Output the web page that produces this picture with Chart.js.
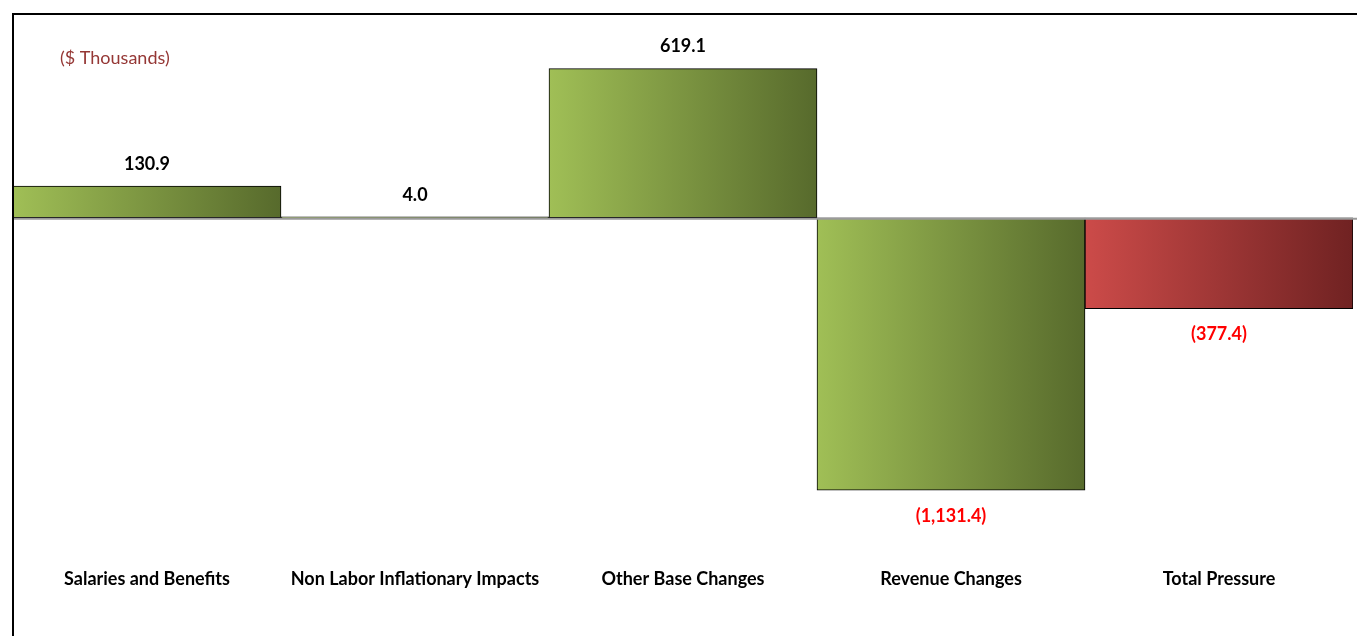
<!DOCTYPE html>
<html>
<head>
<meta charset="utf-8">
<script src="https://cdn.jsdelivr.net/npm/chart.js@4.4.1/dist/chart.umd.min.js"></script>
<style>
    html, body { margin: 0; padding: 0; background: #fff; }
    #wrap { position: relative; width: 1357px; height: 636px; }
</style>
</head>
<body>
<div id="wrap"><canvas id="pressureChart"></canvas></div>
<script>
// Chart data ($ thousands)
const categories = ["Salaries and Benefits", "Non Labor Inflationary Impacts", "Other Base Changes", "Revenue Changes", "Total Pressure"];
const values = [130.9, 4.0, 619.1, -1131.4, -377.4];
const valueLabels = ["130.9", "4.0", "619.1", "(1,131.4)", "(377.4)"];
const unitsNote = "($ Thousands)";

document.addEventListener("DOMContentLoaded", () => {
    const ctx = document.getElementById("pressureChart").getContext("2d");

    // Horizontal gradient per bar, green for components, red for total
    function barGradient(context) {
        const chart = context.chart;
        const xs = chart.scales && chart.scales.x;
        if (!chart.chartArea || !xs || context.dataIndex === undefined) return "#9bbb59";
        const half = (chart.chartArea.right - chart.chartArea.left) / categories.length / 2;
        const cx = xs.getPixelForValue(context.dataIndex);
        if (!isFinite(cx)) return "#9bbb59";
        const g = chart.ctx.createLinearGradient(cx - half, 0, cx + half, 0);
        if (context.dataIndex === categories.length - 1) {
            g.addColorStop(0, "#cc4b49");
            g.addColorStop(1, "#702222");
        } else {
            g.addColorStop(0, "#a0bf56");
            g.addColorStop(1, "#576a2c");
        }
        return g;
    }

    // Frame, zero line, value labels and category labels
    const decorations = {
        id: "decorations",
        afterDatasetsDraw(chart) {
            const c = chart.ctx;
            const x = chart.scales.x;
            const y = chart.scales.y;
            const zero = y.getPixelForValue(0);

            c.save();
            // zero line
            c.strokeStyle = "#9a9a9a";
            c.lineWidth = 2;
            c.beginPath();
            c.moveTo(13, zero + 1);
            c.lineTo(1357, zero + 1);
            c.stroke();

            // frame
            c.strokeStyle = "#000";
            c.lineWidth = 2;
            c.beginPath();
            c.moveTo(13, 636);
            c.lineTo(13, 14);
            c.lineTo(1357, 14);
            c.stroke();

            // units note
            c.fillStyle = "#953735";
            c.font = "18px Lato";
            c.textAlign = "left";
            c.textBaseline = "middle";
            c.fillText(unitsNote, 60, 58);

            // value labels
            c.font = "bold 18px Lato";
            c.textAlign = "center";
            values.forEach((v, i) => {
                const px = x.getPixelForValue(i);
                const py = y.getPixelForValue(v);
                c.fillStyle = v < 0 ? "#ff0000" : "#000";
                c.fillText(valueLabels[i], px, v < 0 ? py + 26 : py - 22);
            });

            // category labels
            c.fillStyle = "#000";
            categories.forEach((cat, i) => {
                c.fillText(cat, x.getPixelForValue(i), 579);
            });
            c.restore();
        }
    };

    window.pressureChart = new Chart(ctx, {
        type: "bar",
        data: {
            labels: categories,
            datasets: [{
                data: values,
                backgroundColor: barGradient,
                borderColor: "#000",
                borderWidth: 1,
                borderSkipped: false,
                categoryPercentage: 1.0,
                barPercentage: 1.0
            }]
        },
        options: {
            responsive: true,
            maintainAspectRatio: false,
            animation: false,
            layout: { padding: { left: 13, right: 4, top: 25, bottom: 81 } },
            plugins: {
                legend: { display: false },
                tooltip: { enabled: false }
            },
            scales: {
                x: { display: false },
                y: { display: false, min: -1400, max: 800 }
            }
        },
        plugins: [decorations]
    });
});
</script>
</body>
</html>
